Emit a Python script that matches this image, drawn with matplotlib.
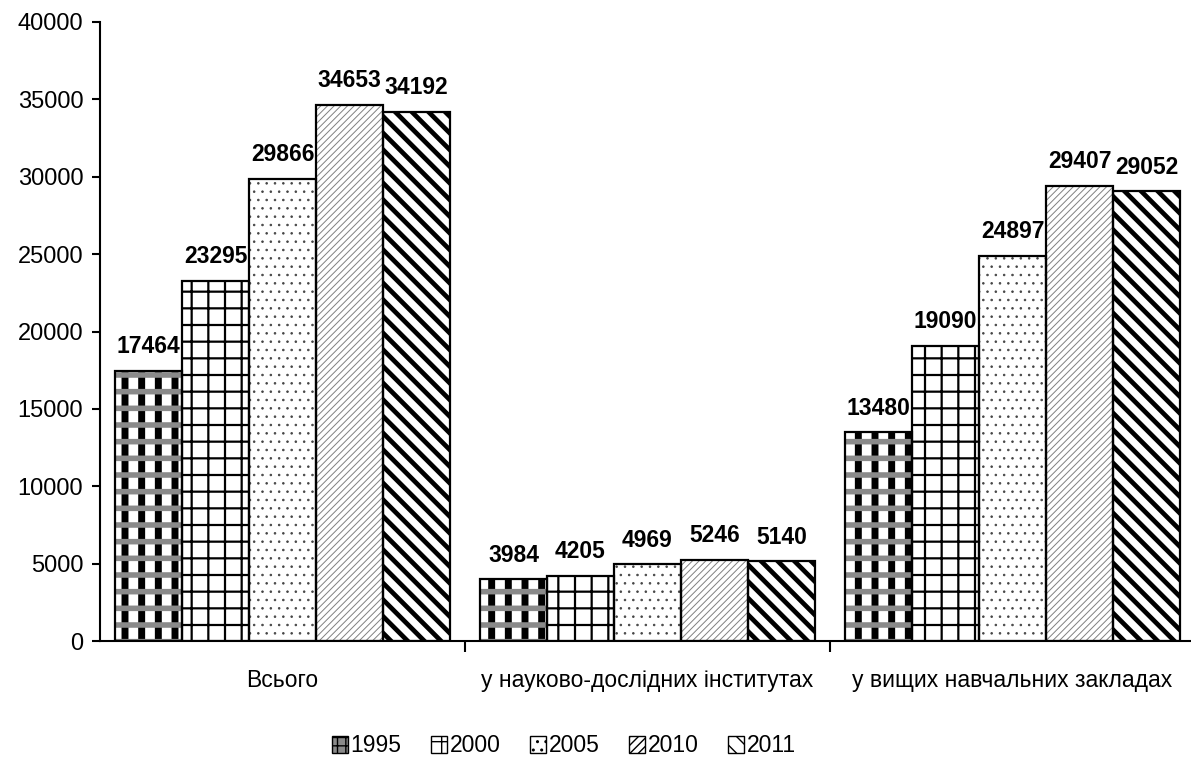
import matplotlib
matplotlib.use("Agg")
import matplotlib.pyplot as plt
from matplotlib.patches import Patch
import numpy as np

plt.rcParams['font.family'] = ['Liberation Sans', 'DejaVu Sans']

categories = ["Всього", "у науково-дослідних інститутах", "у вищих навчальних закладах"]
years = ["1995", "2000", "2005", "2010", "2011"]
v1995 = [17464, 3984, 13480]
v2000 = [23295, 4205, 19090]
v2005 = [29866, 4969, 24897]
v2010 = [34653, 5246, 29407]
v2011 = [34192, 5140, 29052]
series = [v1995, v2000, v2005, v2010, v2011]

# hatch layers per series: (hatch, hatchcolor, hatch linewidth)
layers = [
    [('|', 'black', 5.0), ('-', '#8a8a8a', 4.0)],
    [('+', 'black', 1.6)],
    [('..', '#444444', 0.6)],
    [('/////', '#808080', 0.7)],
    [('\\\\', 'black', 3.4)],
]

fig = plt.figure(figsize=(11.91, 7.58), dpi=100)
ax = fig.add_axes([100/1191, 117/758, 1095/1191, 619/758])

x = np.arange(len(categories))
w = 0.1836
for i, (vals, lay) in enumerate(zip(series, layers)):
    pos = x + (i - 2) * w
    ax.bar(pos, vals, w, color='white', linewidth=0, zorder=1)
    for k, (h, hc, hlw) in enumerate(lay):
        with plt.rc_context({'hatch.linewidth': hlw, 'hatch.color': hc}):
            bars = ax.bar(pos, vals, w, fill=False, hatch=h, edgecolor=hc,
                          linewidth=0, zorder=2 + k * 0.1)
            for b in bars:
                if hasattr(b, 'set_hatch_linewidth'):
                    b.set_hatch_linewidth(hlw)
    ax.bar(pos, vals, w, fill=False, edgecolor='black', linewidth=1.6, zorder=3)
    for p, v in zip(pos, vals):
        ax.annotate(str(v), (p, v), xytext=(0, 9), textcoords='offset points',
                    ha='center', va='bottom', fontsize=16.5, fontweight='bold')

ax.set_xlim(-0.5, 2.5)
ax.set_ylim(0, 40000)
ax.set_yticks(np.arange(0, 40001, 5000))
ax.tick_params(axis='y', labelsize=17, length=6, width=1.5, direction='out', pad=6)
ax.set_xticks(x)
ax.set_xticklabels(categories, fontsize=16.5)
ax.tick_params(axis='x', length=0, pad=20)
ax.set_xticks([0.5, 1.5], minor=True)
ax.tick_params(axis='x', which='minor', length=8, width=1.5, direction='out')
for s in ['top', 'right']:
    ax.spines[s].set_visible(False)
ax.spines['left'].set_linewidth(1.5)
ax.spines['bottom'].set_linewidth(1.5)

legend_hatch = ['++', '+', '..', '////', '\\\\']
legend_face = ['#8a8a8a', 'white', 'white', 'white', 'white']
handles = []
for yr, h, fc in zip(years, legend_hatch, legend_face):
    with plt.rc_context({'hatch.linewidth': 1.2}):
        p = Patch(facecolor=fc, hatch=h, edgecolor='black', linewidth=1, label=yr)
    handles.append(p)
fig.legend(handles=handles, loc='center', bbox_to_anchor=(0.4735, 12/758),
           ncol=5, frameon=False, fontsize=16.5, handlelength=0.7, handleheight=0.7,
           handletextpad=0.1, columnspacing=1.3)

fig.savefig("out.png", dpi=100)
